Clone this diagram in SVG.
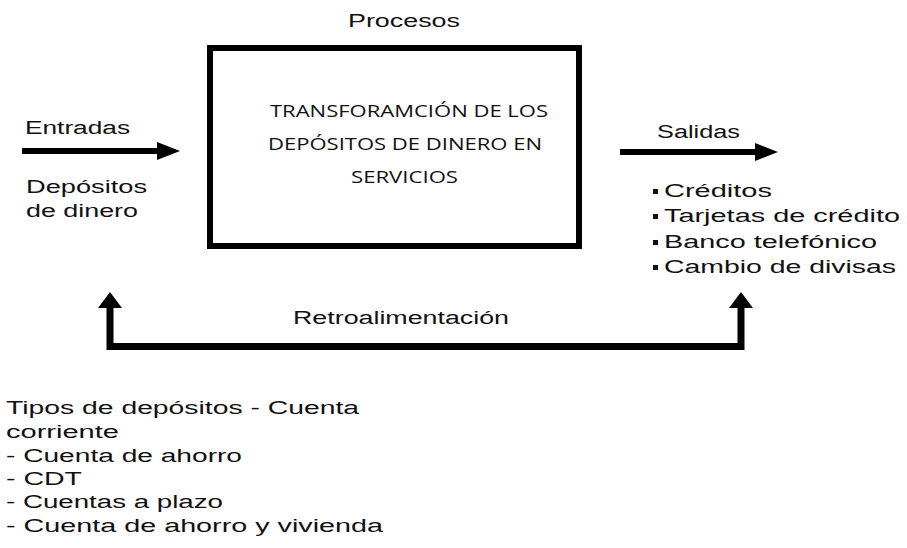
<svg xmlns="http://www.w3.org/2000/svg" width="907" height="548" viewBox="0 0 907 548">
<style>
.t{font-family:"Liberation Sans",Arial,sans-serif;font-size:18px;fill:#111}
.b{font-family:"Open Sans","Liberation Sans",sans-serif;font-size:16px;fill:#111}
.c{fill:none;stroke:#000}
.bl{fill:#111}
</style>
<defs>
<marker id="ah" markerUnits="userSpaceOnUse" markerWidth="24" markerHeight="20" refX="0" refY="10" orient="auto-start-reverse" viewBox="0 0 24 20">
<path d="M0,1 L23,10 L0,19 Z" fill="#000"/>
</marker>
<marker id="au" markerUnits="userSpaceOnUse" markerWidth="17" markerHeight="26" refX="0" refY="13" orient="auto-start-reverse" viewBox="0 0 17 26">
<path d="M0,1 L16,13 L0,25 Z" fill="#000"/>
</marker>
</defs>
<rect width="907" height="548" fill="#fff"/>
<g id="proceso">
<rect x="210" y="48" width="369" height="198" fill="#fff" stroke="#000" stroke-width="6"/>
<text class="b" x="270" y="117" textLength="278" lengthAdjust="spacingAndGlyphs">TRANSFORAMCIÓN DE LOS</text>
<text class="b" x="268" y="150" textLength="274" lengthAdjust="spacingAndGlyphs">DEPÓSITOS DE DINERO EN</text>
<text class="b" x="351" y="183" textLength="107" lengthAdjust="spacingAndGlyphs">SERVICIOS</text>
</g>
<g id="titulo-procesos">
<text class="t" x="348" y="27" textLength="112" lengthAdjust="spacingAndGlyphs">Procesos</text>
</g>
<g id="entradas">
<text class="t" x="25" y="134" textLength="105" lengthAdjust="spacingAndGlyphs">Entradas</text>
<text class="t" x="26" y="193" textLength="121" lengthAdjust="spacingAndGlyphs">Depósitos</text>
<text class="t" x="26" y="217" textLength="112" lengthAdjust="spacingAndGlyphs">de dinero</text>
</g>
<g id="salidas">
<text class="t" x="657" y="138" textLength="83" lengthAdjust="spacingAndGlyphs">Salidas</text>
<rect class="bl" x="653" y="189" width="5" height="5"/>
<rect class="bl" x="653" y="214" width="5" height="5"/>
<rect class="bl" x="653" y="240" width="5" height="5"/>
<rect class="bl" x="653" y="265" width="5" height="5"/>
<text class="t" x="664" y="197" textLength="108" lengthAdjust="spacingAndGlyphs">Créditos</text>
<text class="t" x="664" y="222" textLength="236" lengthAdjust="spacingAndGlyphs">Tarjetas de crédito</text>
<text class="t" x="664" y="248" textLength="213" lengthAdjust="spacingAndGlyphs">Banco telefónico</text>
<text class="t" x="664" y="273" textLength="232" lengthAdjust="spacingAndGlyphs">Cambio de divisas</text>
</g>
<g id="retroalimentacion">
<text class="t" x="293" y="324" textLength="216" lengthAdjust="spacingAndGlyphs">Retroalimentación</text>
</g>
<g id="tipos">
<text class="t" x="6" y="414" textLength="353" lengthAdjust="spacingAndGlyphs">Tipos de depósitos - Cuenta</text>
<text class="t" x="6" y="438" textLength="113" lengthAdjust="spacingAndGlyphs">corriente</text>
<text class="t" x="6" y="462" textLength="236" lengthAdjust="spacingAndGlyphs">- Cuenta de ahorro</text>
<text class="t" x="6" y="485" textLength="76" lengthAdjust="spacingAndGlyphs">- CDT</text>
<text class="t" x="6" y="508" textLength="217" lengthAdjust="spacingAndGlyphs">- Cuentas a plazo</text>
<text class="t" x="6" y="532" textLength="377" lengthAdjust="spacingAndGlyphs">- Cuenta de ahorro y vivienda</text>
</g>
<g id="conectores">
<path class="c" d="M22,151 H157" stroke-width="6" marker-end="url(#ah)"/>
<path class="c" d="M620,152 H755" stroke-width="6" marker-end="url(#ah)"/>
<path class="c" d="M110,308 V346.5 H741 V308" stroke-width="7" marker-start="url(#au)" marker-end="url(#au)"/>
</g>
</svg>
